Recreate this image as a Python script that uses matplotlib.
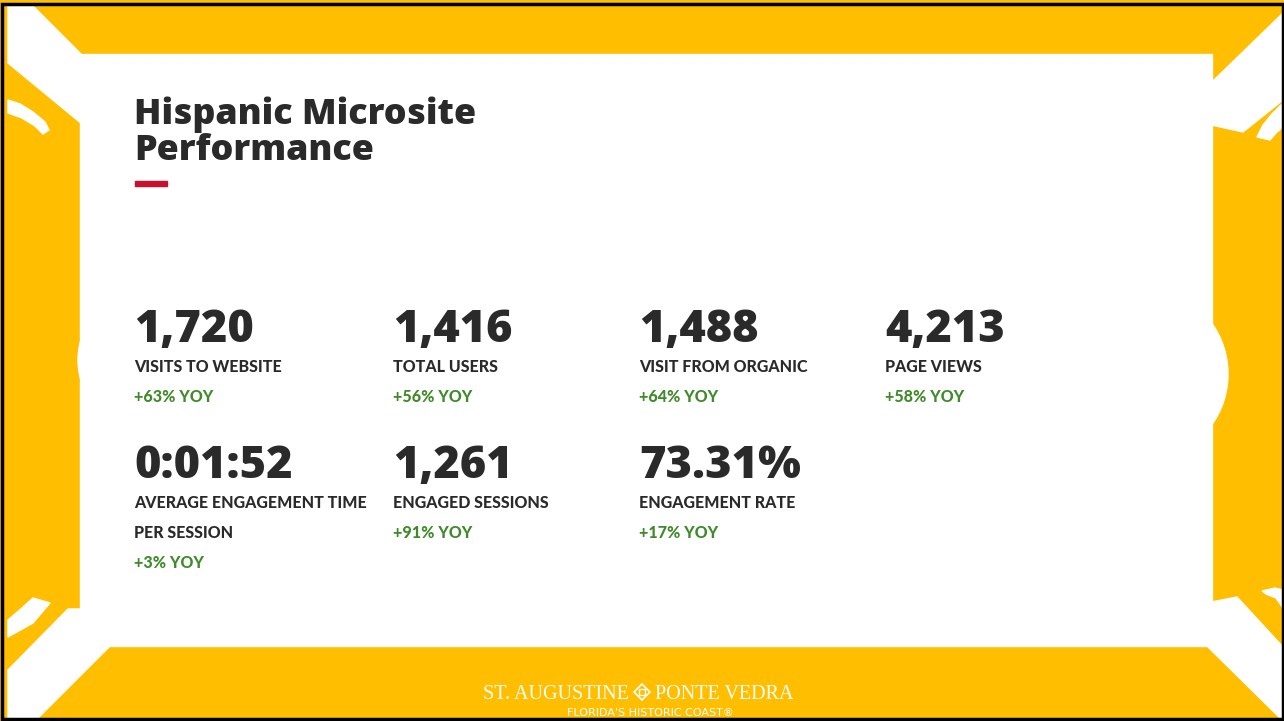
import matplotlib.pyplot as plt
import matplotlib.font_manager as fm
from matplotlib.patches import Rectangle, Polygon, Circle

# slide content
title_lines = ["Hispanic Microsite", "Performance"]
kpi_values = ["1,720", "1,416", "1,488", "4,213", "0:01:52", "1,261", "73.31%"]
kpi_labels = ["VISITS TO WEBSITE", "TOTAL USERS", "VISIT FROM ORGANIC", "PAGE VIEWS",
              "AVERAGE ENGAGEMENT TIME\nPER SESSION", "ENGAGED SESSIONS", "ENGAGEMENT RATE"]
kpi_yoy = ["+63% YOY", "+56% YOY", "+64% YOY", "+58% YOY", "+3% YOY", "+91% YOY", "+17% YOY"]

YELLOW = "#FFBE00"
DARK = "#2a2a2a"
GREEN = "#3f8a2a"
RED = "#c8102e"


def weight_of(entry):
    w = entry.weight
    if isinstance(w, str):
        w = fm.weight_dict.get(w, 400)
    return w


def pick_font(families, min_weight, size):
    # heaviest-enough face from the first family in the list that has one
    for fam in families:
        faces = [f for f in fm.fontManager.ttflist
                 if f.name == fam and f.style == "normal" and weight_of(f) >= min_weight]
        if faces:
            faces.sort(key=weight_of, reverse=True)
            return fm.FontProperties(fname=faces[0].fname, size=size)
    return fm.FontProperties(family="Lato", weight="bold", size=size)


heavy_list = ["Noto Sans", "Open Sans", "Roboto", "Inter", "Lato"]
title_fp = pick_font(heavy_list, 800, 25.8)
value_fp = pick_font(heavy_list, 800, 32.5)
label_fp = pick_font(["Lato"], 700, 11.5)
yoy_fp = pick_font(["Lato"], 700, 11.5)

fig = plt.figure(figsize=(12.84, 7.21), dpi=100)
ax = fig.add_axes([0, 0, 1, 1])
ax.set_xlim(0, 1284)
ax.set_ylim(721, 0)
ax.axis("off")

# background and sun decoration
ax.add_patch(Rectangle((0, 0), 1284, 721, color=YELLOW, zorder=0))
white_shapes = [
    [(8, 5), (32, 5), (150, 123), (150, 180), (8, 63)],
    [(8, 100), (20, 104), (33, 112), (45, 122), (49, 130), (43, 134), (35, 126), (22, 118), (8, 113)],
    [(1180, 113), (1283, 13), (1283, 100), (1243, 132), (1180, 118)],
    [(1257, 137), (1263, 125), (1272, 114), (1283, 103), (1283, 127), (1276, 133), (1270, 140)],
    [(68, 609), (147, 609), (38, 718), (8, 718), (8, 670)],
    [(8, 620), (22, 608), (33, 598), (50, 603), (33, 623), (8, 637)],
    [(1170, 610), (1237, 597), (1283, 647), (1283, 718), (1280, 718), (1208, 647)],
    [(1262, 591), (1275, 588), (1283, 590), (1283, 608), (1276, 598), (1266, 594)],
]
for pts in white_shapes:
    ax.add_patch(Polygon(pts, closed=True, color="white", zorder=1))
ax.add_patch(Circle((1140, 374), 88, color="white", zorder=1))
ax.add_patch(Circle((150, 360), 72, color="white", zorder=1))

# white content panel
ax.add_patch(Rectangle((80, 54), 1132, 592, color="white", zorder=2))
ax.add_patch(Rectangle((1.5, 3.5), 1281, 715, fill=False, edgecolor="black", lw=2.5, zorder=5))

# title
for i, line in enumerate(title_lines):
    ax.text(134, 124 + i * 36, line, fontproperties=title_fp,
            color=DARK, va="baseline", ha="left", zorder=3)
ax.add_patch(Rectangle((135, 181), 32, 5, color=RED, zorder=3))

# KPI grid
col_x = [134, 393, 639, 885]
row_y = [342, 478]
for i, (val, lab, yoy) in enumerate(zip(kpi_values, kpi_labels, kpi_yoy)):
    x = col_x[i % 4]
    y = row_y[i // 4]
    ax.text(x, y, val, fontproperties=value_fp, color=DARK,
            va="baseline", ha="left", zorder=3)
    lines = lab.split("\n")
    for j, ln in enumerate(lines):
        ax.text(x, y + 30 + j * 30, ln, fontproperties=label_fp,
                color=DARK, va="baseline", ha="left", zorder=3)
    ax.text(x, y + 30 + len(lines) * 30, yoy, fontproperties=yoy_fp,
            color=GREEN, va="baseline", ha="left", zorder=3)

# footer logo
ax.text(629, 699, "ST. AUGUSTINE", fontsize=14.5, family="Liberation Serif", color="white",
        ha="right", va="baseline", zorder=3)
ax.text(655, 699, "PONTE VEDRA", fontsize=14.5, family="Liberation Serif", color="white",
        ha="left", va="baseline", zorder=3)
ax.add_patch(Polygon([(642, 684), (650, 692), (642, 700), (634, 692)], closed=True,
                     fill=False, edgecolor="white", lw=1.2, zorder=3))
ax.add_patch(Rectangle((639, 689), 6, 6, fill=False, edgecolor="white", lw=1, zorder=3))
ax.text(650, 716, "FLORIDA'S HISTORIC COAST\u00ae", fontsize=8, family="DejaVu Sans",
        color="white", ha="center", va="baseline", zorder=3)

fig.savefig("out.png", dpi=100)
